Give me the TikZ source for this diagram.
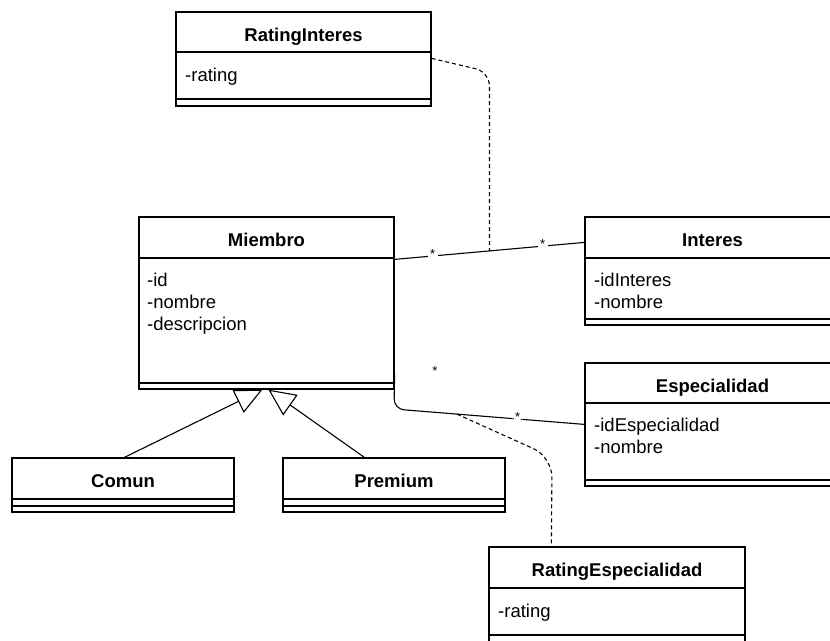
\documentclass[tikz,border=0pt]{standalone}
\usepackage{fontspec}
\setmainfont{Liberation Sans}
\usetikzlibrary{arrows.meta,fit,calc}
\tikzset{
  cls/.style={draw, line width=1.2pt, inner sep=0pt},
  sepl/.style={line width=1.2pt},
  ttl/.style={anchor=base, inner sep=0pt, font=\fontsize{18.5}{22}\selectfont\bfseries},
  attr/.style={anchor=base west, inner sep=0pt, font=\fontsize{18.5}{22}\selectfont},
  assoc/.style={line width=1.1pt},
  dsh/.style={line width=1.1pt, dash pattern=on 4pt off 3pt},
  gen/.style={line width=1.1pt, -{Triangle[open, length=27pt, width=25pt]}},
  mult/.style={font=\fontsize{13}{13}\selectfont, fill=white, inner sep=2.5pt},
  multfree/.style={font=\fontsize{13}{13}\selectfont, inner sep=1pt},
}
\newcommand\umlclass[8]{%
  \node[cls, fit={(#2,#3)(#4,#5)}] (#1) {};
  \draw[sepl] (#2,#6) -- (#4,#6);
  \draw[sepl] (#2,#7) -- (#4,#7);
  \node[ttl] (#1-t) at ({(#2+#4)/2},{#3+29.5}) {#8};
}
\begin{document}
\begin{tikzpicture}[x=1pt,y=-1pt]
\useasboundingbox[fill=white] (0,0) rectangle (830,640);

% classes
\umlclass{ri}{176}{12}{431}{106}{52}{99}{RatingInteres}
\umlclass{mi}{139}{217}{394}{389}{258}{383}{Miembro}
\umlclass{in}{585}{217}{840}{325}{258}{319}{Interes}
\umlclass{es}{585}{363}{840}{486}{403}{480}{Especialidad}
\umlclass{co}{12}{458}{234}{512}{499}{506}{Comun}
\umlclass{pr}{283}{458}{505}{512}{499}{506}{Premium}
\umlclass{re}{489}{547}{745}{648}{588}{635}{RatingEspecialidad}

% attributes
\node[attr] (ri-a1) at (185,81) {-rating};
\node[attr] (mi-a1) at (147,286) {-id};
\node[attr] (mi-a2) at (147,308) {-nombre};
\node[attr] (mi-a3) at (147,330) {-descripcion};
\node[attr] (in-a1) at (594,286) {-idInteres};
\node[attr] (in-a2) at (594,308) {-nombre};
\node[attr] (es-a1) at (594,431.5) {-idEspecialidad};
\node[attr] (es-a2) at (594,453.5) {-nombre};
\node[attr] (re-a1) at (498,617) {-rating};

% association Miembro - Interes
\coordinate (a1) at ($(mi.north east)+(0,43)$);
\coordinate (b1) at ($(in.north west)+(0,26)$);
\draw[assoc] (a1) -- node[mult, pos=0.2, yshift=2pt] {*} node[mult, pos=0.78, yshift=2pt] {*} (b1);
\coordinate (m1) at ($(a1)!0.5!(b1)$);
\draw[dsh, rounded corners=14pt] ($(ri.north east)+(0,47)$) -- (489.5,72) -- (m1);

% association Miembro - Especialidad
\coordinate (a2) at ($(mi.north east)+(0,158)$);
\coordinate (c2) at (394,409);
\coordinate (b2) at ($(es.north west)+(0,62)$);
\draw[assoc, rounded corners=10pt] (a2) -- (c2) -- node[mult, pos=0.65, yshift=2pt] {*} (b2);
\node[multfree] (s3) at (435,371) {*};
\coordinate (m2) at ($(c2)!0.33!(b2)$);
\draw[dsh, rounded corners=20pt] (m2) -- (552,457) -- ($(re.north west)+(63,0)$);

% generalizations
\draw[gen] ($(co.north west)+(113,0)$) -- ($(mi.south west)+(124,0)$);
\draw[gen] ($(pr.north west)+(82,0)$) -- ($(mi.south west)+(130,0)$);
\end{tikzpicture}
\end{document}
